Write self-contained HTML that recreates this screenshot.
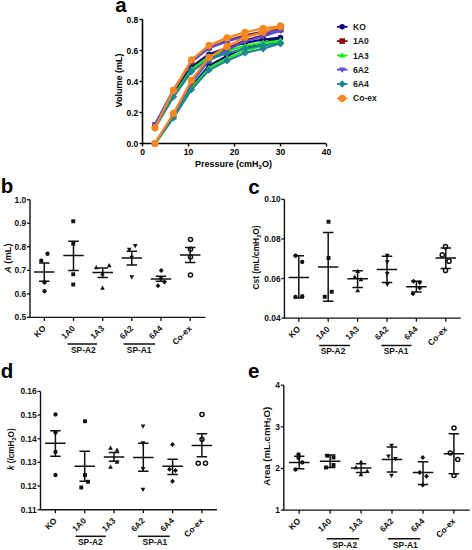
<!DOCTYPE html>
<html><head><meta charset="utf-8"><style>
html,body{margin:0;padding:0;background:#fff;}
svg{display:block;}
text{font-family:"Liberation Sans", sans-serif;}
</style></head><body>
<svg width="472" height="550" viewBox="0 0 472 550" font-family='"Liberation Sans", sans-serif'>
<rect width="472" height="550" fill="#fff"/>
<text x="115.3" y="11.6" font-size="20.5" font-weight="bold">a</text>
<text x="0.8" y="193.3" font-size="20.5" font-weight="bold">b</text>
<text x="248.2" y="193.5" font-size="20.5" font-weight="bold">c</text>
<text x="0.7" y="378" font-size="20.5" font-weight="bold">d</text>
<text x="248.1" y="377.6" font-size="20.5" font-weight="bold">e</text>
<path d="M142.5 19.5 V143.5 H326" fill="none" stroke="#000" stroke-width="1.6"/>
<path d="M139.5 143.5 H142.5" stroke="#000" stroke-width="1.4"/>
<text x="138.3" y="146.6" font-size="8.5" font-weight="bold" text-anchor="end">0.0</text>
<path d="M139.5 112.5 H142.5" stroke="#000" stroke-width="1.4"/>
<text x="138.3" y="115.6" font-size="8.5" font-weight="bold" text-anchor="end">0.2</text>
<path d="M139.5 81.5 H142.5" stroke="#000" stroke-width="1.4"/>
<text x="138.3" y="84.6" font-size="8.5" font-weight="bold" text-anchor="end">0.4</text>
<path d="M139.5 50.5 H142.5" stroke="#000" stroke-width="1.4"/>
<text x="138.3" y="53.6" font-size="8.5" font-weight="bold" text-anchor="end">0.6</text>
<path d="M139.5 19.5 H142.5" stroke="#000" stroke-width="1.4"/>
<text x="138.3" y="22.6" font-size="8.5" font-weight="bold" text-anchor="end">0.8</text>
<path d="M142.5 143.5 V146.5" stroke="#000" stroke-width="1.4"/>
<text x="142.5" y="155.3" font-size="8.5" font-weight="bold" text-anchor="middle">0</text>
<path d="M188.5 143.5 V146.5" stroke="#000" stroke-width="1.4"/>
<text x="188.5" y="155.3" font-size="8.5" font-weight="bold" text-anchor="middle">10</text>
<path d="M234.5 143.5 V146.5" stroke="#000" stroke-width="1.4"/>
<text x="234.5" y="155.3" font-size="8.5" font-weight="bold" text-anchor="middle">20</text>
<path d="M280.5 143.5 V146.5" stroke="#000" stroke-width="1.4"/>
<text x="280.5" y="155.3" font-size="8.5" font-weight="bold" text-anchor="middle">30</text>
<path d="M326.5 143.5 V146.5" stroke="#000" stroke-width="1.4"/>
<text x="326.5" y="155.3" font-size="8.5" font-weight="bold" text-anchor="middle">40</text>
<text x="233.5" y="167" font-size="9" font-weight="bold" text-anchor="middle">Pressure (cmH<tspan font-size="6" dy="2">2</tspan><tspan dy="-2">O)</tspan></text>
<text transform="translate(122 80.5) rotate(-90)" font-size="9" font-weight="bold" text-anchor="middle">Volume (mL)</text>
<polyline points="155,143.5 173.5,116.4 191.5,86.44 209,65.8 227,55.95 245,47.59 263,43.14 280.5,37.63" fill="none" stroke="#06067a" stroke-width="2.2" stroke-linejoin="round"/>
<circle cx="155" cy="143.5" r="2.7" fill="#06067a"/>
<circle cx="173.5" cy="116.4" r="2.7" fill="#06067a"/>
<circle cx="191.5" cy="86.44" r="2.7" fill="#06067a"/>
<circle cx="209" cy="65.8" r="2.7" fill="#06067a"/>
<circle cx="227" cy="55.95" r="2.7" fill="#06067a"/>
<circle cx="245" cy="47.59" r="2.7" fill="#06067a"/>
<circle cx="263" cy="43.14" r="2.7" fill="#06067a"/>
<circle cx="280.5" cy="37.63" r="2.7" fill="#06067a"/>
<polyline points="155,125.67 173.5,93.18 191.5,66.78 209,54.19 227,47.79 245,42.92 263,39.56 280.5,37.63" fill="none" stroke="#06067a" stroke-width="2.2" stroke-linejoin="round"/>
<circle cx="155" cy="125.67" r="2.7" fill="#06067a"/>
<circle cx="173.5" cy="93.18" r="2.7" fill="#06067a"/>
<circle cx="191.5" cy="66.78" r="2.7" fill="#06067a"/>
<circle cx="209" cy="54.19" r="2.7" fill="#06067a"/>
<circle cx="227" cy="47.79" r="2.7" fill="#06067a"/>
<circle cx="245" cy="42.92" r="2.7" fill="#06067a"/>
<circle cx="263" cy="39.56" r="2.7" fill="#06067a"/>
<circle cx="280.5" cy="37.63" r="2.7" fill="#06067a"/>
<polyline points="155,143.5 173.5,114.34 191.5,82.09 209,59.88 227,49.28 245,40.28 263,35.5 280.5,29.58" fill="none" stroke="#8b0a0a" stroke-width="2.2" stroke-linejoin="round"/>
<rect x="152.2" y="140.7" width="5.6" height="5.6" fill="#8b0a0a"/>
<rect x="170.7" y="111.54" width="5.6" height="5.6" fill="#8b0a0a"/>
<rect x="188.7" y="79.29" width="5.6" height="5.6" fill="#8b0a0a"/>
<rect x="206.2" y="57.08" width="5.6" height="5.6" fill="#8b0a0a"/>
<rect x="224.2" y="46.48" width="5.6" height="5.6" fill="#8b0a0a"/>
<rect x="242.2" y="37.48" width="5.6" height="5.6" fill="#8b0a0a"/>
<rect x="260.2" y="32.7" width="5.6" height="5.6" fill="#8b0a0a"/>
<rect x="277.7" y="26.78" width="5.6" height="5.6" fill="#8b0a0a"/>
<polyline points="155,126.45 173.5,90.69 191.5,61.64 209,47.79 227,40.75 245,35.39 263,31.7 280.5,29.58" fill="none" stroke="#8b0a0a" stroke-width="2.2" stroke-linejoin="round"/>
<rect x="152.2" y="123.65" width="5.6" height="5.6" fill="#8b0a0a"/>
<rect x="170.7" y="87.89" width="5.6" height="5.6" fill="#8b0a0a"/>
<rect x="188.7" y="58.84" width="5.6" height="5.6" fill="#8b0a0a"/>
<rect x="206.2" y="44.99" width="5.6" height="5.6" fill="#8b0a0a"/>
<rect x="224.2" y="37.95" width="5.6" height="5.6" fill="#8b0a0a"/>
<rect x="242.2" y="32.59" width="5.6" height="5.6" fill="#8b0a0a"/>
<rect x="260.2" y="28.9" width="5.6" height="5.6" fill="#8b0a0a"/>
<rect x="277.7" y="26.78" width="5.6" height="5.6" fill="#8b0a0a"/>
<polyline points="155,143.5 173.5,117.19 191.5,88.11 209,68.07 227,58.51 245,50.39 263,46.08 280.5,40.73" fill="none" stroke="#18f018" stroke-width="2.2" stroke-linejoin="round"/>
<path d="M155 140.26 L158.4 145.66 L151.6 145.66 Z" fill="#18f018"/>
<path d="M173.5 113.95 L176.9 119.35 L170.1 119.35 Z" fill="#18f018"/>
<path d="M191.5 84.87 L194.9 90.27 L188.1 90.27 Z" fill="#18f018"/>
<path d="M209 64.83 L212.4 70.23 L205.6 70.23 Z" fill="#18f018"/>
<path d="M227 55.27 L230.4 60.67 L223.6 60.67 Z" fill="#18f018"/>
<path d="M245 47.15 L248.4 52.55 L241.6 52.55 Z" fill="#18f018"/>
<path d="M263 42.84 L266.4 48.24 L259.6 48.24 Z" fill="#18f018"/>
<path d="M280.5 37.49 L283.9 42.89 L277.1 42.89 Z" fill="#18f018"/>
<polyline points="155,127.22 173.5,95.3 191.5,69.37 209,57 227,50.71 245,45.92 263,42.63 280.5,40.73" fill="none" stroke="#18f018" stroke-width="2.2" stroke-linejoin="round"/>
<path d="M155 123.98 L158.4 129.38 L151.6 129.38 Z" fill="#18f018"/>
<path d="M173.5 92.06 L176.9 97.46 L170.1 97.46 Z" fill="#18f018"/>
<path d="M191.5 66.13 L194.9 71.53 L188.1 71.53 Z" fill="#18f018"/>
<path d="M209 53.76 L212.4 59.16 L205.6 59.16 Z" fill="#18f018"/>
<path d="M227 47.47 L230.4 52.87 L223.6 52.87 Z" fill="#18f018"/>
<path d="M245 42.68 L248.4 48.08 L241.6 48.08 Z" fill="#18f018"/>
<path d="M263 39.39 L266.4 44.79 L259.6 44.79 Z" fill="#18f018"/>
<path d="M280.5 37.49 L283.9 42.89 L277.1 42.89 Z" fill="#18f018"/>
<polyline points="155,143.5 173.5,114.61 191.5,82.68 209,60.68 227,50.18 245,41.27 263,36.53 280.5,30.66" fill="none" stroke="#5a50d8" stroke-width="2.2" stroke-linejoin="round"/>
<path d="M155 146.74 L158.4 141.34 L151.6 141.34 Z" fill="#5a50d8"/>
<path d="M173.5 117.85 L176.9 112.45 L170.1 112.45 Z" fill="#5a50d8"/>
<path d="M191.5 85.92 L194.9 80.52 L188.1 80.52 Z" fill="#5a50d8"/>
<path d="M209 63.92 L212.4 58.52 L205.6 58.52 Z" fill="#5a50d8"/>
<path d="M227 53.42 L230.4 48.02 L223.6 48.02 Z" fill="#5a50d8"/>
<path d="M245 44.51 L248.4 39.11 L241.6 39.11 Z" fill="#5a50d8"/>
<path d="M263 39.77 L266.4 34.37 L259.6 34.37 Z" fill="#5a50d8"/>
<path d="M280.5 33.9 L283.9 28.5 L277.1 28.5 Z" fill="#5a50d8"/>
<polyline points="155,124.12 173.5,89.63 191.5,61.6 209,48.23 227,41.44 245,36.27 263,32.71 280.5,30.66" fill="none" stroke="#5a50d8" stroke-width="2.2" stroke-linejoin="round"/>
<path d="M155 127.36 L158.4 121.97 L151.6 121.97 Z" fill="#5a50d8"/>
<path d="M173.5 92.87 L176.9 87.47 L170.1 87.47 Z" fill="#5a50d8"/>
<path d="M191.5 64.84 L194.9 59.44 L188.1 59.44 Z" fill="#5a50d8"/>
<path d="M209 51.47 L212.4 46.07 L205.6 46.07 Z" fill="#5a50d8"/>
<path d="M227 44.68 L230.4 39.28 L223.6 39.28 Z" fill="#5a50d8"/>
<path d="M245 39.51 L248.4 34.11 L241.6 34.11 Z" fill="#5a50d8"/>
<path d="M263 35.95 L266.4 30.55 L259.6 30.55 Z" fill="#5a50d8"/>
<path d="M280.5 33.9 L283.9 28.5 L277.1 28.5 Z" fill="#5a50d8"/>
<polyline points="155,143.5 173.5,117.91 191.5,89.61 209,70.12 227,60.82 245,52.92 263,48.72 280.5,43.52" fill="none" stroke="#1f8494" stroke-width="2.2" stroke-linejoin="round"/>
<path d="M155 139.8 L158.7 143.5 L155 147.2 L151.3 143.5 Z" fill="#1f8494"/>
<path d="M173.5 114.21 L177.2 117.91 L173.5 121.61 L169.8 117.91 Z" fill="#1f8494"/>
<path d="M191.5 85.91 L195.2 89.61 L191.5 93.31 L187.8 89.61 Z" fill="#1f8494"/>
<path d="M209 66.42 L212.7 70.12 L209 73.82 L205.3 70.12 Z" fill="#1f8494"/>
<path d="M227 57.12 L230.7 60.82 L227 64.52 L223.3 60.82 Z" fill="#1f8494"/>
<path d="M245 49.22 L248.7 52.92 L245 56.62 L241.3 52.92 Z" fill="#1f8494"/>
<path d="M263 45.02 L266.7 48.72 L263 52.42 L259.3 48.72 Z" fill="#1f8494"/>
<path d="M280.5 39.82 L284.2 43.52 L280.5 47.22 L276.8 43.52 Z" fill="#1f8494"/>
<polyline points="155,128 173.5,96.82 191.5,71.49 209,59.41 227,53.27 245,48.59 263,45.38 280.5,43.52" fill="none" stroke="#1f8494" stroke-width="2.2" stroke-linejoin="round"/>
<path d="M155 124.3 L158.7 128 L155 131.7 L151.3 128 Z" fill="#1f8494"/>
<path d="M173.5 93.12 L177.2 96.82 L173.5 100.52 L169.8 96.82 Z" fill="#1f8494"/>
<path d="M191.5 67.79 L195.2 71.49 L191.5 75.19 L187.8 71.49 Z" fill="#1f8494"/>
<path d="M209 55.71 L212.7 59.41 L209 63.11 L205.3 59.41 Z" fill="#1f8494"/>
<path d="M227 49.57 L230.7 53.27 L227 56.97 L223.3 53.27 Z" fill="#1f8494"/>
<path d="M245 44.89 L248.7 48.59 L245 52.29 L241.3 48.59 Z" fill="#1f8494"/>
<path d="M263 41.68 L266.7 45.38 L263 49.08 L259.3 45.38 Z" fill="#1f8494"/>
<path d="M280.5 39.82 L284.2 43.52 L280.5 47.22 L276.8 43.52 Z" fill="#1f8494"/>
<polyline points="155,143.5 173.5,113.46 191.5,80.26 209,57.38 227,46.46 245,37.19 263,32.27 280.5,26.16" fill="none" stroke="#f7861c" stroke-width="2.2" stroke-linejoin="round"/>
<circle cx="155" cy="143.5" r="3.6" fill="#f7861c"/>
<circle cx="173.5" cy="113.46" r="3.6" fill="#f7861c"/>
<circle cx="191.5" cy="80.26" r="3.6" fill="#f7861c"/>
<circle cx="209" cy="57.38" r="3.6" fill="#f7861c"/>
<circle cx="227" cy="46.46" r="3.6" fill="#f7861c"/>
<circle cx="245" cy="37.19" r="3.6" fill="#f7861c"/>
<circle cx="263" cy="32.27" r="3.6" fill="#f7861c"/>
<circle cx="280.5" cy="26.16" r="3.6" fill="#f7861c"/>
<polyline points="155,127.84 173.5,90.32 191.5,59.82 209,45.28 227,37.89 245,32.26 263,28.39 280.5,26.16" fill="none" stroke="#f7861c" stroke-width="2.2" stroke-linejoin="round"/>
<circle cx="155" cy="127.84" r="3.6" fill="#f7861c"/>
<circle cx="173.5" cy="90.32" r="3.6" fill="#f7861c"/>
<circle cx="191.5" cy="59.82" r="3.6" fill="#f7861c"/>
<circle cx="209" cy="45.28" r="3.6" fill="#f7861c"/>
<circle cx="227" cy="37.89" r="3.6" fill="#f7861c"/>
<circle cx="245" cy="32.26" r="3.6" fill="#f7861c"/>
<circle cx="263" cy="28.39" r="3.6" fill="#f7861c"/>
<circle cx="280.5" cy="26.16" r="3.6" fill="#f7861c"/>
<path d="M337 26.8 H347.5" stroke="#06067a" stroke-width="1.8"/>
<circle cx="342.2" cy="26.8" r="2.7" fill="#06067a"/>
<text x="353" y="29.9" font-size="8.6" font-weight="bold" fill="#1a1a1a">KO</text>
<path d="M337 41.1 H347.5" stroke="#8b0a0a" stroke-width="1.8"/>
<rect x="339.4" y="38.3" width="5.6" height="5.6" fill="#8b0a0a"/>
<text x="353" y="44.2" font-size="8.6" font-weight="bold" fill="#1a1a1a">1A0</text>
<path d="M337 55.4 H347.5" stroke="#18f018" stroke-width="1.8"/>
<path d="M342.2 52.16 L345.6 57.56 L338.8 57.56 Z" fill="#18f018"/>
<text x="353" y="58.5" font-size="8.6" font-weight="bold" fill="#1a1a1a">1A3</text>
<path d="M337 69.7 H347.5" stroke="#5a50d8" stroke-width="1.8"/>
<path d="M342.2 72.94 L345.6 67.54 L338.8 67.54 Z" fill="#5a50d8"/>
<text x="353" y="72.8" font-size="8.6" font-weight="bold" fill="#1a1a1a">6A2</text>
<path d="M337 84.0 H347.5" stroke="#1f8494" stroke-width="1.8"/>
<path d="M342.2 80.3 L345.9 84 L342.2 87.7 L338.5 84 Z" fill="#1f8494"/>
<text x="353" y="87.1" font-size="8.6" font-weight="bold" fill="#1a1a1a">6A4</text>
<path d="M337 98.3 H347.5" stroke="#f7861c" stroke-width="1.8"/>
<circle cx="342.2" cy="98.3" r="3.6" fill="#f7861c"/>
<text x="353" y="101.4" font-size="8.6" font-weight="bold" fill="#1a1a1a">Co-ex</text>
<path d="M30 199.7 V317.4 H205.4" fill="none" stroke="#111" stroke-width="1.4"/>
<path d="M27 317.4 H30" stroke="#111" stroke-width="1.3"/>
<text x="26.2" y="320.4" font-size="8.4" font-weight="bold" text-anchor="end" fill="#111">0.5</text>
<path d="M27 293.86 H30" stroke="#111" stroke-width="1.3"/>
<text x="26.2" y="296.86" font-size="8.4" font-weight="bold" text-anchor="end" fill="#111">0.6</text>
<path d="M27 270.32 H30" stroke="#111" stroke-width="1.3"/>
<text x="26.2" y="273.32" font-size="8.4" font-weight="bold" text-anchor="end" fill="#111">0.7</text>
<path d="M27 246.78 H30" stroke="#111" stroke-width="1.3"/>
<text x="26.2" y="249.78" font-size="8.4" font-weight="bold" text-anchor="end" fill="#111">0.8</text>
<path d="M27 223.24 H30" stroke="#111" stroke-width="1.3"/>
<text x="26.2" y="226.24" font-size="8.4" font-weight="bold" text-anchor="end" fill="#111">0.9</text>
<path d="M27 199.7 H30" stroke="#111" stroke-width="1.3"/>
<text x="26.2" y="202.7" font-size="8.4" font-weight="bold" text-anchor="end" fill="#111">1.0</text>
<path d="M44.3 317.4 V321.0" stroke="#111" stroke-width="1.3"/>
<text transform="translate(46.3 329) rotate(-45)" font-size="8.4" font-weight="bold" text-anchor="end" fill="#111">KO</text>
<path d="M73.5 317.4 V321.0" stroke="#111" stroke-width="1.3"/>
<text transform="translate(75.5 329) rotate(-45)" font-size="8.4" font-weight="bold" text-anchor="end" fill="#111">1A0</text>
<path d="M102.7 317.4 V321.0" stroke="#111" stroke-width="1.3"/>
<text transform="translate(104.7 329) rotate(-45)" font-size="8.4" font-weight="bold" text-anchor="end" fill="#111">1A3</text>
<path d="M131.8 317.4 V321.0" stroke="#111" stroke-width="1.3"/>
<text transform="translate(133.8 329) rotate(-45)" font-size="8.4" font-weight="bold" text-anchor="end" fill="#111">6A2</text>
<path d="M161 317.4 V321.0" stroke="#111" stroke-width="1.3"/>
<text transform="translate(163 329) rotate(-45)" font-size="8.4" font-weight="bold" text-anchor="end" fill="#111">6A4</text>
<path d="M190.2 317.4 V321.0" stroke="#111" stroke-width="1.3"/>
<text transform="translate(192.2 329) rotate(-45)" font-size="8.4" font-weight="bold" text-anchor="end" fill="#111">Co-ex</text>
<text transform="translate(10.6 258.2) rotate(-90)" font-size="9.4" font-weight="bold" text-anchor="middle" fill="#111"><tspan font-style="italic">A</tspan> (mL)</text>
<path d="M67.5 344 H97.1" stroke="#111" stroke-width="1.5"/>
<text x="83.3" y="353.0" font-size="8.4" font-weight="bold" text-anchor="middle" fill="#111">SP-A2</text>
<path d="M123.5 344 H155.1" stroke="#111" stroke-width="1.5"/>
<text x="139.2" y="353.0" font-size="8.4" font-weight="bold" text-anchor="middle" fill="#111">SP-A1</text>
<circle cx="41.25" cy="260.75" r="2.15" fill="#111"/>
<circle cx="47.5" cy="253.75" r="2.15" fill="#111"/>
<circle cx="44.5" cy="282.5" r="2.15" fill="#111"/>
<circle cx="44.5" cy="291.25" r="2.15" fill="#111"/>
<path d="M34.05 272 H54.55 M44.3 263 V281.25 M39.05 263 H49.55 M39.05 281.25 H49.55" stroke="#111" stroke-width="1.5" fill="none"/>
<rect x="71.3" y="219.3" width="3.9" height="3.9" fill="#111"/>
<rect x="71.3" y="241.8" width="3.9" height="3.9" fill="#111"/>
<rect x="71.3" y="272.3" width="3.9" height="3.9" fill="#111"/>
<rect x="71.3" y="282.55" width="3.9" height="3.9" fill="#111"/>
<path d="M63.25 255.5 H83.75 M73.5 241.25 V270.5 M68.25 241.25 H78.75 M68.25 270.5 H78.75" stroke="#111" stroke-width="1.5" fill="none"/>
<path d="M96.25 264.98 L98.6 269.18 L93.9 269.18 Z" fill="#111"/>
<path d="M109.25 262.98 L111.6 267.18 L106.9 267.18 Z" fill="#111"/>
<path d="M102.5 271.23 L104.85 275.43 L100.15 275.43 Z" fill="#111"/>
<path d="M102.5 285.48 L104.85 289.68 L100.15 289.68 Z" fill="#111"/>
<path d="M92.45 272.5 H112.95 M102.7 268 V277.5 M97.45 268 H107.95 M97.45 277.5 H107.95" stroke="#111" stroke-width="1.5" fill="none"/>
<path d="M129.25 252.02 L131.6 247.82 L126.9 247.82 Z" fill="#111"/>
<path d="M135.25 248.27 L137.6 244.07 L132.9 244.07 Z" fill="#111"/>
<path d="M131.75 260.02 L134.1 255.82 L129.4 255.82 Z" fill="#111"/>
<path d="M131.75 279.52 L134.1 275.32 L129.4 275.32 Z" fill="#111"/>
<path d="M121.55 258 H142.05 M131.8 251.2 V265 M126.55 251.2 H137.05 M126.55 265 H137.05" stroke="#111" stroke-width="1.5" fill="none"/>
<path d="M161.25 268.05 L163.7 270.5 L161.25 272.95 L158.8 270.5 Z" fill="#111"/>
<path d="M164.5 279.55 L166.95 282 L164.5 284.45 L162.05 282 Z" fill="#111"/>
<path d="M158 283.3 L160.45 285.75 L158 288.2 L155.55 285.75 Z" fill="#111"/>
<path d="M161 275.8 L163.45 278.25 L161 280.7 L158.55 278.25 Z" fill="#111"/>
<path d="M150.75 279 H171.25 M161 276.25 V281.25 M155.75 276.25 H166.25 M155.75 281.25 H166.25" stroke="#111" stroke-width="1.5" fill="none"/>
<circle cx="190.5" cy="239.5" r="2.05" fill="none" stroke="#111" stroke-width="1.5"/>
<circle cx="190.5" cy="249.25" r="2.05" fill="none" stroke="#111" stroke-width="1.5"/>
<circle cx="190.5" cy="257" r="2.05" fill="none" stroke="#111" stroke-width="1.5"/>
<circle cx="190.5" cy="275" r="2.05" fill="none" stroke="#111" stroke-width="1.5"/>
<path d="M179.95 255 H200.45 M190.2 247.5 V262.5 M184.95 247.5 H195.45 M184.95 262.5 H195.45" stroke="#111" stroke-width="1.5" fill="none"/>
<path d="M284.4 199.4 V318.1 H460.7" fill="none" stroke="#111" stroke-width="1.4"/>
<path d="M281.4 318.1 H284.4" stroke="#111" stroke-width="1.3"/>
<text x="280.59999999999997" y="321.1" font-size="8.4" font-weight="bold" text-anchor="end" fill="#111">0.04</text>
<path d="M281.4 278.53 H284.4" stroke="#111" stroke-width="1.3"/>
<text x="280.59999999999997" y="281.53" font-size="8.4" font-weight="bold" text-anchor="end" fill="#111">0.06</text>
<path d="M281.4 238.96 H284.4" stroke="#111" stroke-width="1.3"/>
<text x="280.59999999999997" y="241.96" font-size="8.4" font-weight="bold" text-anchor="end" fill="#111">0.08</text>
<path d="M281.4 199.39 H284.4" stroke="#111" stroke-width="1.3"/>
<text x="280.59999999999997" y="202.39" font-size="8.4" font-weight="bold" text-anchor="end" fill="#111">0.10</text>
<path d="M298.8 318.1 V321.70000000000005" stroke="#111" stroke-width="1.3"/>
<text transform="translate(300.8 329.7) rotate(-45)" font-size="8.4" font-weight="bold" text-anchor="end" fill="#111">KO</text>
<path d="M328.2 318.1 V321.70000000000005" stroke="#111" stroke-width="1.3"/>
<text transform="translate(330.2 329.7) rotate(-45)" font-size="8.4" font-weight="bold" text-anchor="end" fill="#111">1A0</text>
<path d="M357.6 318.1 V321.70000000000005" stroke="#111" stroke-width="1.3"/>
<text transform="translate(359.6 329.7) rotate(-45)" font-size="8.4" font-weight="bold" text-anchor="end" fill="#111">1A3</text>
<path d="M387 318.1 V321.70000000000005" stroke="#111" stroke-width="1.3"/>
<text transform="translate(389 329.7) rotate(-45)" font-size="8.4" font-weight="bold" text-anchor="end" fill="#111">6A2</text>
<path d="M416.4 318.1 V321.70000000000005" stroke="#111" stroke-width="1.3"/>
<text transform="translate(418.4 329.7) rotate(-45)" font-size="8.4" font-weight="bold" text-anchor="end" fill="#111">6A4</text>
<path d="M445.8 318.1 V321.70000000000005" stroke="#111" stroke-width="1.3"/>
<text transform="translate(447.8 329.7) rotate(-45)" font-size="8.4" font-weight="bold" text-anchor="end" fill="#111">Co-ex</text>
<text transform="translate(259.3 257.5) rotate(-90)" font-size="8.4" font-weight="bold" text-anchor="middle" fill="#111">Cst (mL/cmH<tspan font-size="5.5" dy="1.8">2</tspan><tspan dy="-1.8">O)</tspan></text>
<path d="M319.2 345.5 H349.9" stroke="#111" stroke-width="1.5"/>
<text x="333" y="354.3" font-size="8.4" font-weight="bold" text-anchor="middle" fill="#111">SP-A2</text>
<path d="M381.3 345.5 H411.4" stroke="#111" stroke-width="1.5"/>
<text x="396.1" y="354.3" font-size="8.4" font-weight="bold" text-anchor="middle" fill="#111">SP-A1</text>
<circle cx="295.5" cy="255.75" r="2.15" fill="#111"/>
<circle cx="302.25" cy="262" r="2.15" fill="#111"/>
<circle cx="295.5" cy="297" r="2.15" fill="#111"/>
<circle cx="302.25" cy="296.25" r="2.15" fill="#111"/>
<path d="M288.55 277.5 H309.05 M298.8 255.75 V298 M293.55 255.75 H304.05 M293.55 298 H304.05" stroke="#111" stroke-width="1.5" fill="none"/>
<rect x="326.55" y="219.8" width="3.9" height="3.9" fill="#111"/>
<rect x="326.55" y="256.05" width="3.9" height="3.9" fill="#111"/>
<rect x="329.8" y="289.8" width="3.9" height="3.9" fill="#111"/>
<rect x="322.8" y="294.8" width="3.9" height="3.9" fill="#111"/>
<path d="M317.95 267 H338.45 M328.2 232.5 V301.25 M322.95 232.5 H333.45 M322.95 301.25 H333.45" stroke="#111" stroke-width="1.5" fill="none"/>
<path d="M354.75 274.48 L357.1 278.68 L352.4 278.68 Z" fill="#111"/>
<path d="M361 276.98 L363.35 281.18 L358.65 281.18 Z" fill="#111"/>
<path d="M357.75 268.73 L360.1 272.93 L355.4 272.93 Z" fill="#111"/>
<path d="M357.75 287.98 L360.1 292.18 L355.4 292.18 Z" fill="#111"/>
<path d="M347.35 278.75 H367.85 M357.6 270.75 V287.5 M352.35 270.75 H362.85 M352.35 287.5 H362.85" stroke="#111" stroke-width="1.5" fill="none"/>
<path d="M387.25 258.02 L389.6 253.82 L384.9 253.82 Z" fill="#111"/>
<path d="M387.25 264.52 L389.6 260.32 L384.9 260.32 Z" fill="#111"/>
<path d="M387.25 276.27 L389.6 272.07 L384.9 272.07 Z" fill="#111"/>
<path d="M387.25 287.02 L389.6 282.82 L384.9 282.82 Z" fill="#111"/>
<path d="M376.75 269.5 H397.25 M387 256.25 V282.5 M381.75 256.25 H392.25 M381.75 282.5 H392.25" stroke="#111" stroke-width="1.5" fill="none"/>
<path d="M413.5 278.8 L415.95 281.25 L413.5 283.7 L411.05 281.25 Z" fill="#111"/>
<path d="M419.75 280.05 L422.2 282.5 L419.75 284.95 L417.3 282.5 Z" fill="#111"/>
<path d="M419.75 285.55 L422.2 288 L419.75 290.45 L417.3 288 Z" fill="#111"/>
<path d="M413 291.3 L415.45 293.75 L413 296.2 L410.55 293.75 Z" fill="#111"/>
<path d="M406.15 286.75 H426.65 M416.4 281.25 V292 M411.15 281.25 H421.65 M411.15 292 H421.65" stroke="#111" stroke-width="1.5" fill="none"/>
<circle cx="445.5" cy="246.65" r="2.05" fill="none" stroke="#111" stroke-width="1.5"/>
<circle cx="442.25" cy="254.9" r="2.05" fill="none" stroke="#111" stroke-width="1.5"/>
<circle cx="449" cy="261.15" r="2.05" fill="none" stroke="#111" stroke-width="1.5"/>
<circle cx="445.5" cy="270.4" r="2.05" fill="none" stroke="#111" stroke-width="1.5"/>
<path d="M435.55 257.9 H456.05 M445.8 247.9 V268.4 M440.55 247.9 H451.05 M440.55 268.4 H451.05" stroke="#111" stroke-width="1.5" fill="none"/>
<path d="M40.5 391.4 V509.7 H217" fill="none" stroke="#111" stroke-width="1.4"/>
<path d="M37.5 509.7 H40.5" stroke="#111" stroke-width="1.3"/>
<text x="36.7" y="512.7" font-size="8.4" font-weight="bold" text-anchor="end" fill="#111">0.11</text>
<path d="M37.5 486.04 H40.5" stroke="#111" stroke-width="1.3"/>
<text x="36.7" y="489.04" font-size="8.4" font-weight="bold" text-anchor="end" fill="#111">0.12</text>
<path d="M37.5 462.38 H40.5" stroke="#111" stroke-width="1.3"/>
<text x="36.7" y="465.38" font-size="8.4" font-weight="bold" text-anchor="end" fill="#111">0.13</text>
<path d="M37.5 438.72 H40.5" stroke="#111" stroke-width="1.3"/>
<text x="36.7" y="441.72" font-size="8.4" font-weight="bold" text-anchor="end" fill="#111">0.14</text>
<path d="M37.5 415.06 H40.5" stroke="#111" stroke-width="1.3"/>
<text x="36.7" y="418.06" font-size="8.4" font-weight="bold" text-anchor="end" fill="#111">0.15</text>
<path d="M37.5 391.4 H40.5" stroke="#111" stroke-width="1.3"/>
<text x="36.7" y="394.4" font-size="8.4" font-weight="bold" text-anchor="end" fill="#111">0.16</text>
<path d="M55.4 509.7 V513.3" stroke="#111" stroke-width="1.3"/>
<text transform="translate(57.4 521.3) rotate(-45)" font-size="8.4" font-weight="bold" text-anchor="end" fill="#111">KO</text>
<path d="M84.7 509.7 V513.3" stroke="#111" stroke-width="1.3"/>
<text transform="translate(86.7 521.3) rotate(-45)" font-size="8.4" font-weight="bold" text-anchor="end" fill="#111">1A0</text>
<path d="M114 509.7 V513.3" stroke="#111" stroke-width="1.3"/>
<text transform="translate(116 521.3) rotate(-45)" font-size="8.4" font-weight="bold" text-anchor="end" fill="#111">1A3</text>
<path d="M143.3 509.7 V513.3" stroke="#111" stroke-width="1.3"/>
<text transform="translate(145.3 521.3) rotate(-45)" font-size="8.4" font-weight="bold" text-anchor="end" fill="#111">6A2</text>
<path d="M172.6 509.7 V513.3" stroke="#111" stroke-width="1.3"/>
<text transform="translate(174.6 521.3) rotate(-45)" font-size="8.4" font-weight="bold" text-anchor="end" fill="#111">6A4</text>
<path d="M201.9 509.7 V513.3" stroke="#111" stroke-width="1.3"/>
<text transform="translate(203.9 521.3) rotate(-45)" font-size="8.4" font-weight="bold" text-anchor="end" fill="#111">Co-ex</text>
<text transform="translate(14.4 449.2) rotate(-90)" font-size="8.2" font-weight="bold" text-anchor="middle" fill="#111"><tspan font-style="italic">k</tspan> (/cmH<tspan font-size="5.5" dy="1.8">2</tspan><tspan dy="-1.8">O)</tspan></text>
<path d="M75.5 536.3 H105.8" stroke="#111" stroke-width="1.5"/>
<text x="90.35" y="544.6" font-size="8.4" font-weight="bold" text-anchor="middle" fill="#111">SP-A2</text>
<path d="M138 536.3 H169.7" stroke="#111" stroke-width="1.5"/>
<text x="154.9" y="544.6" font-size="8.4" font-weight="bold" text-anchor="middle" fill="#111">SP-A1</text>
<circle cx="55.5" cy="414.5" r="2.15" fill="#111"/>
<circle cx="55.5" cy="432.5" r="2.15" fill="#111"/>
<circle cx="55.5" cy="452" r="2.15" fill="#111"/>
<circle cx="55.5" cy="475" r="2.15" fill="#111"/>
<path d="M45.15 443.25 H65.65 M55.4 430.75 V456.25 M50.15 430.75 H60.65 M50.15 456.25 H60.65" stroke="#111" stroke-width="1.5" fill="none"/>
<rect x="83.05" y="419.3" width="3.9" height="3.9" fill="#111"/>
<rect x="83.05" y="473.05" width="3.9" height="3.9" fill="#111"/>
<rect x="86.05" y="479.8" width="3.9" height="3.9" fill="#111"/>
<rect x="79.3" y="485.55" width="3.9" height="3.9" fill="#111"/>
<path d="M74.45 466.25 H94.95 M84.7 451.25 V481.25 M79.45 451.25 H89.95 M79.45 481.25 H89.95" stroke="#111" stroke-width="1.5" fill="none"/>
<path d="M110.5 445.48 L112.85 449.68 L108.15 449.68 Z" fill="#111"/>
<path d="M117 447.48 L119.35 451.68 L114.65 451.68 Z" fill="#111"/>
<path d="M117 459.48 L119.35 463.68 L114.65 463.68 Z" fill="#111"/>
<path d="M110.5 464.48 L112.85 468.68 L108.15 468.68 Z" fill="#111"/>
<path d="M103.75 457 H124.25 M114 452.5 V461.25 M108.75 452.5 H119.25 M108.75 461.25 H119.25" stroke="#111" stroke-width="1.5" fill="none"/>
<path d="M143 428.77 L145.35 424.57 L140.65 424.57 Z" fill="#111"/>
<path d="M143 445.52 L145.35 441.32 L140.65 441.32 Z" fill="#111"/>
<path d="M143 471.27 L145.35 467.07 L140.65 467.07 Z" fill="#111"/>
<path d="M143 492.02 L145.35 487.82 L140.65 487.82 Z" fill="#111"/>
<path d="M133.05 457.5 H153.55 M143.3 443.25 V471.25 M138.05 443.25 H148.55 M138.05 471.25 H148.55" stroke="#111" stroke-width="1.5" fill="none"/>
<path d="M172.5 442.05 L174.95 444.5 L172.5 446.95 L170.05 444.5 Z" fill="#111"/>
<path d="M169.5 466.8 L171.95 469.25 L169.5 471.7 L167.05 469.25 Z" fill="#111"/>
<path d="M175.5 468.05 L177.95 470.5 L175.5 472.95 L173.05 470.5 Z" fill="#111"/>
<path d="M172.5 478.8 L174.95 481.25 L172.5 483.7 L170.05 481.25 Z" fill="#111"/>
<path d="M162.35 466.25 H182.85 M172.6 459.25 V474.5 M167.35 459.25 H177.85 M167.35 474.5 H177.85" stroke="#111" stroke-width="1.5" fill="none"/>
<circle cx="202" cy="414.5" r="2.05" fill="none" stroke="#111" stroke-width="1.5"/>
<circle cx="202" cy="439.25" r="2.05" fill="none" stroke="#111" stroke-width="1.5"/>
<circle cx="198.25" cy="463.25" r="2.05" fill="none" stroke="#111" stroke-width="1.5"/>
<circle cx="205.5" cy="463.25" r="2.05" fill="none" stroke="#111" stroke-width="1.5"/>
<path d="M191.65 445.5 H212.15 M201.9 433.75 V456.75 M196.65 433.75 H207.15 M196.65 456.75 H207.15" stroke="#111" stroke-width="1.5" fill="none"/>
<path d="M283.8 385.2 V510.1 H469.8" fill="none" stroke="#111" stroke-width="1.4"/>
<path d="M280.8 510.1 H283.8" stroke="#111" stroke-width="1.3"/>
<text x="280.0" y="513.1" font-size="8.4" font-weight="bold" text-anchor="end" fill="#111">1</text>
<path d="M280.8 468.47 H283.8" stroke="#111" stroke-width="1.3"/>
<text x="280.0" y="471.47" font-size="8.4" font-weight="bold" text-anchor="end" fill="#111">2</text>
<path d="M280.8 426.84 H283.8" stroke="#111" stroke-width="1.3"/>
<text x="280.0" y="429.84" font-size="8.4" font-weight="bold" text-anchor="end" fill="#111">3</text>
<path d="M280.8 385.21 H283.8" stroke="#111" stroke-width="1.3"/>
<text x="280.0" y="388.21" font-size="8.4" font-weight="bold" text-anchor="end" fill="#111">4</text>
<path d="M299.2 510.1 V513.7" stroke="#111" stroke-width="1.3"/>
<text transform="translate(301.2 521.7) rotate(-45)" font-size="8.4" font-weight="bold" text-anchor="end" fill="#111">KO</text>
<path d="M330.1 510.1 V513.7" stroke="#111" stroke-width="1.3"/>
<text transform="translate(332.1 521.7) rotate(-45)" font-size="8.4" font-weight="bold" text-anchor="end" fill="#111">1A0</text>
<path d="M361.1 510.1 V513.7" stroke="#111" stroke-width="1.3"/>
<text transform="translate(363.1 521.7) rotate(-45)" font-size="8.4" font-weight="bold" text-anchor="end" fill="#111">1A3</text>
<path d="M392 510.1 V513.7" stroke="#111" stroke-width="1.3"/>
<text transform="translate(394 521.7) rotate(-45)" font-size="8.4" font-weight="bold" text-anchor="end" fill="#111">6A2</text>
<path d="M423 510.1 V513.7" stroke="#111" stroke-width="1.3"/>
<text transform="translate(425 521.7) rotate(-45)" font-size="8.4" font-weight="bold" text-anchor="end" fill="#111">6A4</text>
<path d="M453.9 510.1 V513.7" stroke="#111" stroke-width="1.3"/>
<text transform="translate(455.9 521.7) rotate(-45)" font-size="8.4" font-weight="bold" text-anchor="end" fill="#111">Co-ex</text>
<text transform="translate(269.5 446.3) rotate(-90)" font-size="9.6" font-weight="bold" text-anchor="middle" fill="#111">Area (mL.cmH<tspan font-size="5.5" dy="1.8">2</tspan><tspan dy="-1.8">O)</tspan></text>
<path d="M326.7 538.8 H359.1" stroke="#111" stroke-width="1.5"/>
<text x="344.75" y="547.9" font-size="8.4" font-weight="bold" text-anchor="middle" fill="#111">SP-A2</text>
<path d="M388.1 538.8 H420.3" stroke="#111" stroke-width="1.5"/>
<text x="405.3" y="547.9" font-size="8.4" font-weight="bold" text-anchor="middle" fill="#111">SP-A1</text>
<circle cx="298.5" cy="454.5" r="2.15" fill="#111"/>
<circle cx="302.25" cy="462.5" r="2.15" fill="#111"/>
<circle cx="295.5" cy="469.5" r="2.15" fill="#111"/>
<circle cx="298.5" cy="458" r="2.15" fill="#111"/>
<path d="M288.95 462.5 H309.45 M299.2 456.25 V468.75 M293.95 456.25 H304.45 M293.95 468.75 H304.45" stroke="#111" stroke-width="1.5" fill="none"/>
<rect x="325.3" y="453.8" width="3.9" height="3.9" fill="#111"/>
<rect x="331.55" y="455.55" width="3.9" height="3.9" fill="#111"/>
<rect x="331.55" y="463.05" width="3.9" height="3.9" fill="#111"/>
<rect x="324.05" y="465.55" width="3.9" height="3.9" fill="#111"/>
<path d="M319.85 461.25 H340.35 M330.1 455 V467.5 M324.85 455 H335.35 M324.85 467.5 H335.35" stroke="#111" stroke-width="1.5" fill="none"/>
<path d="M361 459.48 L363.35 463.68 L358.65 463.68 Z" fill="#111"/>
<path d="M356 464.98 L358.35 469.18 L353.65 469.18 Z" fill="#111"/>
<path d="M367.25 468.73 L369.6 472.93 L364.9 472.93 Z" fill="#111"/>
<path d="M361 471.98 L363.35 476.18 L358.65 476.18 Z" fill="#111"/>
<path d="M350.85 468 H371.35 M361.1 463.75 V472.5 M355.85 463.75 H366.35 M355.85 472.5 H366.35" stroke="#111" stroke-width="1.5" fill="none"/>
<path d="M391.5 448.02 L393.85 443.82 L389.15 443.82 Z" fill="#111"/>
<path d="M388.5 458.77 L390.85 454.57 L386.15 454.57 Z" fill="#111"/>
<path d="M395.5 461.27 L397.85 457.07 L393.15 457.07 Z" fill="#111"/>
<path d="M391.5 478.02 L393.85 473.82 L389.15 473.82 Z" fill="#111"/>
<path d="M381.75 459.5 H402.25 M392 447 V472 M386.75 447 H397.25 M386.75 472 H397.25" stroke="#111" stroke-width="1.5" fill="none"/>
<path d="M422.75 455.05 L425.2 457.5 L422.75 459.95 L420.3 457.5 Z" fill="#111"/>
<path d="M419.75 470.05 L422.2 472.5 L419.75 474.95 L417.3 472.5 Z" fill="#111"/>
<path d="M426.5 473.8 L428.95 476.25 L426.5 478.7 L424.05 476.25 Z" fill="#111"/>
<path d="M422.75 482.55 L425.2 485 L422.75 487.45 L420.3 485 Z" fill="#111"/>
<path d="M412.75 472.5 H433.25 M423 461.75 V484.5 M417.75 461.75 H428.25 M417.75 484.5 H428.25" stroke="#111" stroke-width="1.5" fill="none"/>
<circle cx="454" cy="428" r="2.05" fill="none" stroke="#111" stroke-width="1.5"/>
<circle cx="450.25" cy="453" r="2.05" fill="none" stroke="#111" stroke-width="1.5"/>
<circle cx="457.75" cy="459.5" r="2.05" fill="none" stroke="#111" stroke-width="1.5"/>
<circle cx="454" cy="475.5" r="2.05" fill="none" stroke="#111" stroke-width="1.5"/>
<path d="M443.65 453.75 H464.15 M453.9 433.75 V473.75 M448.65 433.75 H459.15 M448.65 473.75 H459.15" stroke="#111" stroke-width="1.5" fill="none"/>
</svg>
</body></html>
